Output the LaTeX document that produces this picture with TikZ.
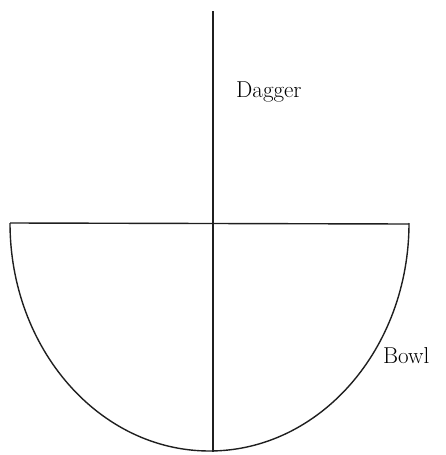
\documentclass[tikz,border=0pt]{standalone}
\begin{document}
\begin{tikzpicture}[x=1pt,y=-1pt,
  edge/.style={line width=1.4pt, draw=black!88},
  lbl/.style={inner sep=0pt, anchor=west, font=\fontsize{23}{27}\selectfont}]
\useasboundingbox (0,0) rectangle (446,455);
\coordinate (dtop) at (213,11);
\coordinate (dbot) at (213,452);
\coordinate (bl) at (10,223);
\coordinate (br) at (409,224);
\draw[edge] (dtop) -- (dbot);
\draw[edge] (bl) -- (br);
\draw[edge] (bl) arc[start angle=180, end angle=360, x radius=199.5, y radius=-228];
\node[lbl] (dagger) at (236,92) {Dagger};
\node[lbl] (bowl) at (383,356) {Bowl};
\end{tikzpicture}
\end{document}
